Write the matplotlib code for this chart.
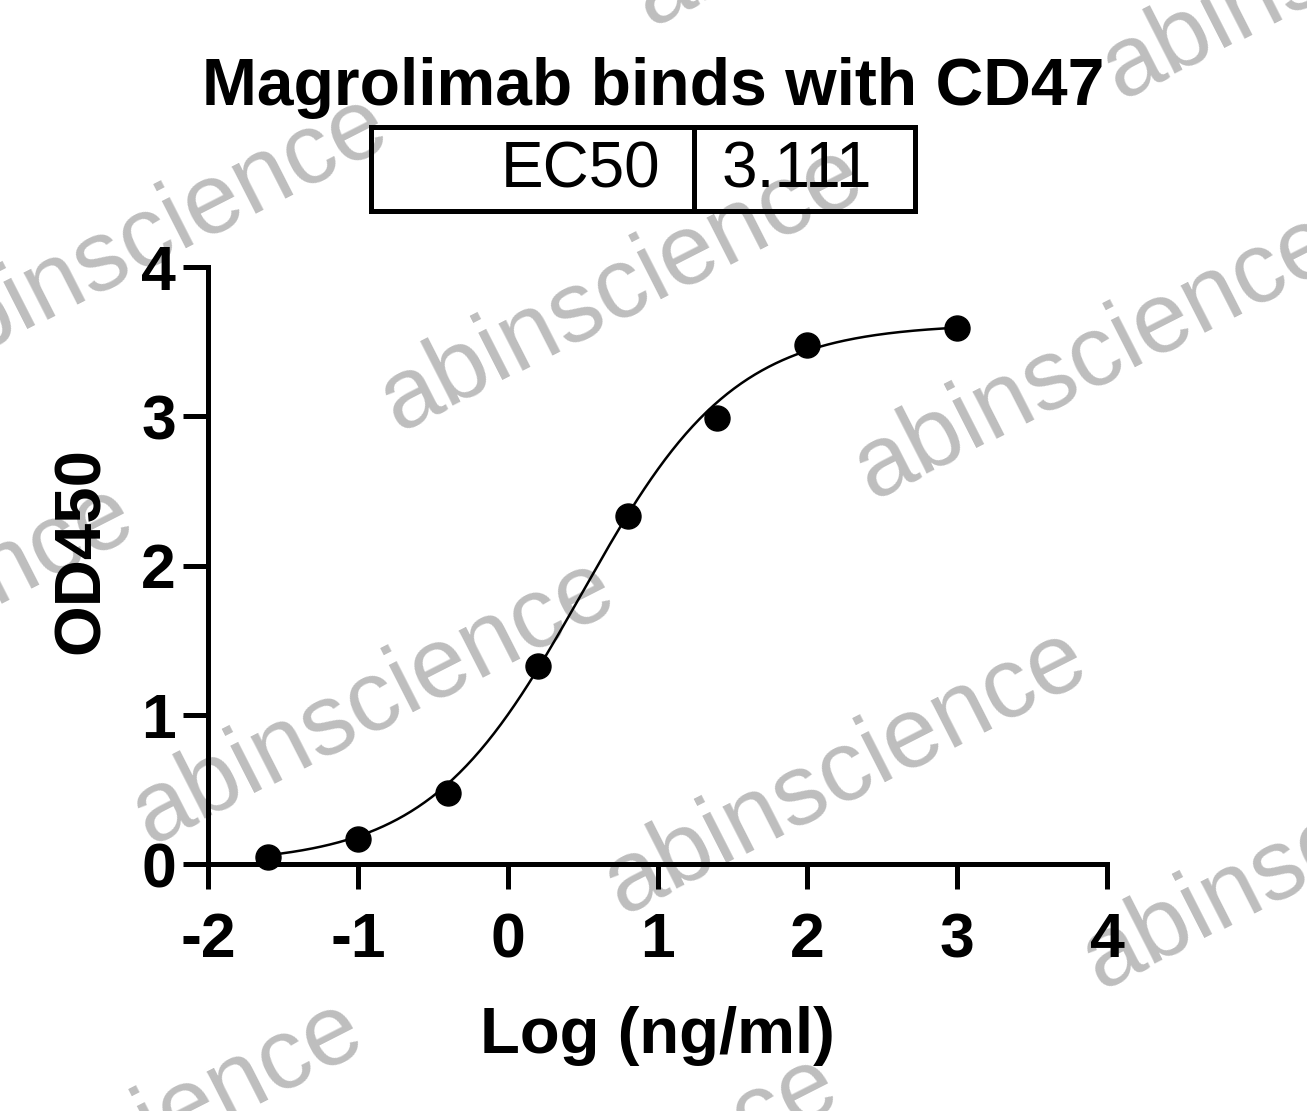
import numpy as np
import matplotlib
matplotlib.use("Agg")
import matplotlib.pyplot as plt
from matplotlib.patches import Rectangle
from matplotlib.lines import Line2D

plt.rcParams['font.family'] = ['Liberation Sans', 'DejaVu Sans']

# ---- data ----
log_conc = [-1.602, -1.0, -0.398, 0.204, 0.806, 1.398, 2.0, 3.0]
od450 = [0.047, 0.168, 0.476, 1.327, 2.332, 2.988, 3.477, 3.591]

# 4PL fit parameters (EC50 in ng/ml)
fit_bottom = 0.0
fit_top = 3.62
fit_ec50 = 3.111
fit_hill = 0.85

title = "Magrolimab binds with CD47"
xlabel = "Log (ng/ml)"
ylabel = "OD450"
xticks = [-2, -1, 0, 1, 2, 3, 4]
yticks = [0, 1, 2, 3, 4]
table_label = "EC50"
table_value = "3.111"
watermark = "abinscience"

W, H = 1307, 1111
fig = plt.figure(figsize=(W / 100, H / 100), dpi=100)
fig.patch.set_facecolor("white")

def fx(px):
    return px / W

def fy(py):
    return 1 - py / H

ax = fig.add_axes([fx(208), fy(864), fx(1107) - fx(208), fy(267) - fy(864)])
ax.set_xlim(-2, 4)
ax.set_ylim(0, 4)
ax.set_facecolor("none")

# fitted curve
xs = np.linspace(min(log_conc), max(log_conc), 400)
ys = fit_bottom + (fit_top - fit_bottom) / (1 + 10 ** ((np.log10(fit_ec50) - xs) * fit_hill))
ax.plot(xs, ys, color="black", lw=1.8, zorder=3, clip_on=False)
ax.plot(log_conc, od450, "o", color="black", markersize=18, zorder=4, clip_on=False)

for s in ["top", "right"]:
    ax.spines[s].set_visible(False)
for s in ["left", "bottom"]:
    ax.spines[s].set_linewidth(3.6)
ax.set_xticks(xticks)
ax.set_yticks(yticks)
ax.set_xticklabels([str(t) for t in xticks])
ax.set_yticklabels([str(t) for t in yticks])
ax.tick_params(axis="both", direction="out", length=18, width=3.6, labelsize=45)
ax.tick_params(axis="x", pad=16)
ax.tick_params(axis="y", pad=5)
for lab in ax.get_xticklabels() + ax.get_yticklabels():
    lab.set_fontweight("bold")

# axis labels
fig.text(fx(657), fy(1053), xlabel, ha="center", va="baseline", fontsize=47, fontweight="bold")
fig.text(fx(82), fy(551), ylabel, ha="center", va="center", rotation=90, fontsize=47, fontweight="bold")

# title
fig.text(fx(653), fy(105), title, ha="center", va="baseline", fontsize=47.5, fontweight="bold")

# EC50 table
rect = Rectangle((fx(371), fy(211)), fx(915) - fx(371), fy(127) - fy(211),
                 transform=fig.transFigure, fill=False, lw=3.6, edgecolor="black")
fig.add_artist(rect)
fig.add_artist(Line2D([fx(694), fx(694)], [fy(211), fy(127)], transform=fig.transFigure,
                      color="black", lw=3.6))
fig.text(fx(660), fy(188), table_label, ha="right", va="baseline", fontsize=46)
fig.text(fx(722), fy(188), table_value, ha="left", va="baseline", fontsize=46)

# watermarks (baseline start points, pixels)
wm_starts = [(-77, 381), (398, 432), (872, 500), (150, 845), (622, 915),
             (1100, 990), (-331, 771), (-102, 1286), (650, 27), (1120, 100), (373, 1341)]
for (px, py) in wm_starts:
    fig.text(fx(px), fy(py), watermark, ha="left", va="baseline", rotation=27,
             rotation_mode="anchor", fontsize=72, color="black", alpha=0.26, zorder=10)

fig.savefig("out.png", dpi=100, facecolor="white")
